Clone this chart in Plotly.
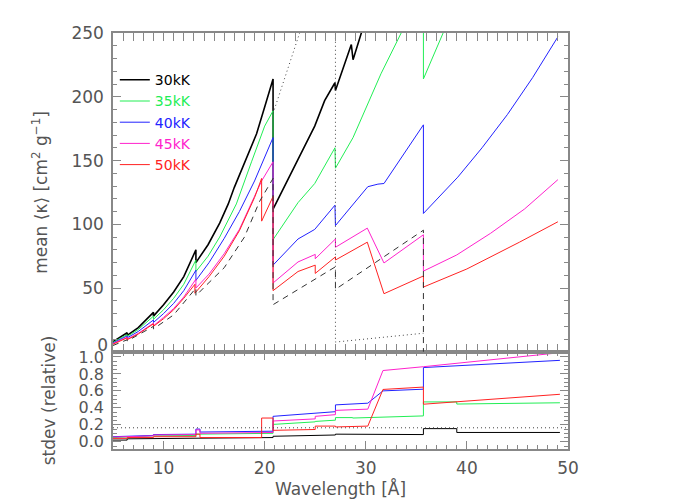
import plotly.graph_objects as go

# ---------------- data ----------------
# top panel: mean opacity <kappa> [cm^2 g^-1]
x30 = [5, 6.4, 6.4, 7.5, 9.0, 9.0, 10, 11, 12, 13.2, 13.2, 14.4, 15.55, 16.4, 17.0, 18.35, 19.2, 20.0, 20.83, 20.83,
       22.0, 23.3, 24.95, 25.93, 26.95, 27.0, 28.57, 28.74, 29.56, 30.5]
y30 = [8, 15, 13, 19, 31, 28, 37, 47, 59, 80, 70, 84, 101, 116, 129, 155, 171, 192, 214, 112,
       130, 151, 177, 197, 211, 205, 241, 229, 250, 275]

x35 = [5, 6.4, 6.4, 7.5, 9.0, 9.0, 10, 11, 12, 13.2, 13.2, 14.4, 15.55, 16.4, 17.2, 18.7, 20.0, 20.83, 20.83,
       23.3, 24.95, 26.95, 27.0, 28.74, 31.5, 33.5, 35.7, 35.7, 37.6, 39.0]
y35 = [7.5, 13.5, 12, 17.5, 28, 25.5, 33, 42, 53, 72, 63, 75, 90, 103, 116, 149, 177, 189, 88,
       117, 132, 160, 144, 168, 218, 250, 285, 214, 250, 275]

x40 = [5, 6.4, 6.4, 7.5, 9.0, 9.0, 10, 11, 12, 13.2, 13.2, 14.5, 16, 17.5, 19, 20.83, 20.83,
       23.3, 24.95, 26.95, 27.0, 30.2, 31.2, 31.8, 35.7, 35.7, 39.1, 41.5, 44.0, 46.5, 49.0]
y40 = [7, 12.5, 11, 16, 25, 23, 30, 38, 48, 64, 56, 70, 89, 110, 134, 168, 68,
       88.5, 96, 115, 99, 129.5, 131.5, 132, 178, 108.5, 137, 160, 186, 215, 247]

x45 = [5, 6.4, 6.4, 7.5, 9.0, 9.0, 10, 11, 12, 13.2, 13.2, 14.5, 16, 17.5, 19, 19.7, 20.83, 20.83,
       23.3, 25.0, 25.0, 27.0, 27.0, 30.15, 31.8, 35.7, 35.7, 39.0, 42.35, 45.7, 49.0]
y45 = [6.5, 11.5, 10, 14.5, 22.5, 20.5, 27, 34, 43, 57, 50, 61, 77, 96, 122, 134, 149, 54,
       70.5, 76.4, 73, 88.5, 82, 97, 69.7, 91.8, 63.3, 76, 93, 112, 135]

x50 = [5, 6.4, 6.4, 7.5, 9.0, 9.0, 10, 11, 12, 13.1, 13.1, 14.5, 16, 17.5, 19, 19.7, 19.7, 20.83, 20.83,
       23.3, 25.0, 25.0, 27.0, 27.0, 30.15, 31.8, 35.7, 35.7, 40.0, 45.2, 49.0]
y50 = [6, 11, 9.5, 14, 22, 20, 26, 33, 42, 53, 46, 59, 75, 95, 121, 136, 102.5, 121.8, 48,
       63, 68, 61.5, 74.5, 72, 86, 45.6, 59.5, 50.8, 65, 86, 102]

x_dash = [5, 6.4, 6.4, 9.0, 9.0, 11, 13.2, 13.2, 14.07, 16, 18, 19.5, 20.83, 20.83, 27.0, 27.0, 35.7, 35.7]
y_dash = [5, 9.5, 8.5, 20, 18, 29, 50, 44, 51, 66, 90, 118, 136, 37, 66.7, 49, 95.4, 0]

x_dot = [20.83, 27.0, 27.0, 35.7]
y_dot = [187, 335, 7.7, 14.6]

# bottom panel: relative standard deviation
sx30 = [5, 6.4, 6.4, 13.6, 13.6, 20.83, 20.83, 27.0, 27.0, 28.7, 28.7, 35.7, 35.7, 39.0, 39.0, 49.2]
sy30 = [0.02, 0.02, 0.035, 0.04, 0.045, 0.05, 0.065, 0.08, 0.09, 0.09, 0.085, 0.085, 0.155, 0.155, 0.11, 0.11]

sx35 = [5, 6.4, 6.4, 9.0, 9.0, 13.2, 13.2, 20.83, 20.83, 25.0, 25.0, 27.0, 27.0, 28.7, 28.7, 35.7, 35.7, 39.0, 39.0, 49.2]
sy35 = [0.05, 0.055, 0.06, 0.065, 0.07, 0.075, 0.09, 0.10, 0.205, 0.235, 0.24, 0.255, 0.285, 0.285, 0.28, 0.305,
        0.47, 0.47, 0.445, 0.46]

sx40 = [5, 6.4, 6.4, 9.0, 9.0, 13.2, 13.2, 13.6, 13.6, 20.83, 20.83, 27.0, 27.0, 30.2, 31.7, 35.7, 35.7, 49.2]
sy40 = [0.06, 0.065, 0.07, 0.075, 0.085, 0.09, 0.15, 0.15, 0.115, 0.125, 0.30, 0.355, 0.435, 0.455, 0.60, 0.62,
        0.875, 0.96]

sx45 = [5, 6.4, 6.4, 9.0, 9.0, 13.2, 13.2, 13.6, 13.6, 20.83, 20.83, 25.0, 25.0, 27.0, 27.0, 30.2, 31.7, 35.7, 49.2]
sy45 = [0.055, 0.06, 0.065, 0.07, 0.08, 0.085, 0.14, 0.14, 0.10, 0.11, 0.245, 0.27, 0.30, 0.32, 0.37, 0.385,
        0.84, 0.885, 1.05]

sx50 = [5, 6.4, 6.4, 9.0, 9.0, 13.2, 13.2, 13.6, 13.6, 19.7, 19.7, 20.83, 20.83, 25.0, 25.0, 27.0, 27.0, 30.2,
        31.7, 35.7, 35.7, 49.2]
sy50 = [0.04, 0.04, 0.05, 0.05, 0.06, 0.06, 0.09, 0.09, 0.05, 0.05, 0.28, 0.28, 0.135, 0.145, 0.185, 0.185,
        0.175, 0.185, 0.617, 0.645, 0.443, 0.56]

sx_ref = [5, 50]
sy_ref = [0.165, 0.165]

labels = ["30kK", "35kK", "40kK", "45kK", "50kK"]
colors = ["#000000", "#22ee55", "#2222ff", "#ff22cc", "#ff2222"]

top_ticks = [0, 50, 100, 150, 200, 250]
top_ticktext = ["", "50", "100", "150", "200", "250"]

# ---------------- figure ----------------
FONT = "DejaVu Sans ExtraLight, DejaVu Sans"
TXT = "#555555"
AX = "#888888"

fig = go.Figure()

top = [(x30, y30), (x35, y35), (x40, y40), (x45, y45), (x50, y50)]
for (xs, ys), lab, col in zip(top, labels, colors):
    fig.add_trace(go.Scatter(
        x=xs, y=ys, mode="lines", xaxis="x2", yaxis="y",
        line=dict(color=col, width=1.6 if col == "#000000" else 1),
        name=f"<span style='color:{col}'>{lab}</span>", showlegend=True))

fig.add_trace(go.Scatter(x=x_dash, y=y_dash, mode="lines", xaxis="x2", yaxis="y",
                         line=dict(color="#333333", width=1, dash="6px,5px"), showlegend=False))
fig.add_trace(go.Scatter(x=x_dot, y=y_dot, mode="lines", xaxis="x2", yaxis="y",
                         line=dict(color="#444444", width=1, dash="1px,3px"), showlegend=False))

bot = [(sx30, sy30), (sx35, sy35), (sx40, sy40), (sx45, sy45), (sx50, sy50)]
for (xs, ys), col in zip(bot, colors):
    fig.add_trace(go.Scatter(x=xs, y=ys, mode="lines", xaxis="x", yaxis="y2",
                             line=dict(color=col, width=1), showlegend=False))
fig.add_trace(go.Scatter(x=sx_ref, y=sy_ref, mode="lines", xaxis="x", yaxis="y2",
                         line=dict(color="#444444", width=1, dash="1px,3px"), showlegend=False))
# carrier for the raised "0" label of the upper panel
fig.add_trace(go.Scatter(x=[None], y=[None], mode="lines", xaxis="x2", yaxis="y3",
                         showlegend=False, hoverinfo="skip"))

split = 99 / 424

common = dict(showline=True, mirror="allticks", linecolor=AX, linewidth=1.5,
              ticks="inside", tickcolor=AX, ticklen=8, tickwidth=1,
              showgrid=False, zeroline=False,
              tickfont=dict(family=FONT, size=17, color=TXT))

fig.update_layout(
    width=700, height=500,
    margin=dict(l=105, r=140, t=25, b=51),
    paper_bgcolor="white", plot_bgcolor="white",
    font=dict(family=FONT, size=17, color=TXT),
    xaxis=dict(domain=[0, 1], anchor="y2", range=[5, 50], tick0=0, dtick=10,
               minor=dict(dtick=1, ticklen=4, tickcolor=AX, ticks="inside"),
               ticklabelstandoff=3,
               title=dict(text="Wavelength [Å]", standoff=6,
                          font=dict(family=FONT, size=17, color=TXT)),
               **common),
    xaxis2=dict(domain=[0, 1], anchor="y", range=[5, 50], tick0=0, dtick=10,
                matches="x", showticklabels=False,
                minor=dict(dtick=1, ticklen=4, tickcolor=AX, ticks="inside"),
                **common),
    yaxis=dict(domain=[split, 1], anchor="x2", range=[0, 250],
               tickmode="array", tickvals=top_ticks, ticktext=top_ticktext,
               minor=dict(dtick=10, ticklen=4, tickcolor=AX, ticks="inside"),
               ticklabelstandoff=4,
               title=dict(text="mean ⟨κ⟩ [cm<sup>2</sup> g<sup>−1</sup>]", standoff=19,
                          font=dict(family=FONT, size=17, color=TXT)),
               **common),
    yaxis3=dict(overlaying="y", anchor="x2", side="left", range=[0, 250],
                tickmode="array", tickvals=[5.5], ticktext=["0"],
                showline=False, ticks="", showgrid=False, zeroline=False,
                ticklabelstandoff=4,
                tickfont=dict(family=FONT, size=17, color=TXT)),
    yaxis2=dict(domain=[0, split], anchor="x", range=[-0.085, 1.06], tick0=0, dtick=0.2,
                tickformat=".1f",
                minor=dict(dtick=0.05, ticklen=4, tickcolor=AX, ticks="inside"),
                ticklabelstandoff=4,
                title=dict(text="stdev (relative)", standoff=19,
                           font=dict(family=FONT, size=17, color=TXT)),
                **{**common, "tickfont": dict(family=FONT, size=16, color=TXT)}),
    legend=dict(x=0.004, y=0.925, xanchor="left", yanchor="top",
                bgcolor="rgba(0,0,0,0)", borderwidth=0,
                font=dict(family=FONT, size=14, color=TXT)),
)

fig.write_html("out.html")
